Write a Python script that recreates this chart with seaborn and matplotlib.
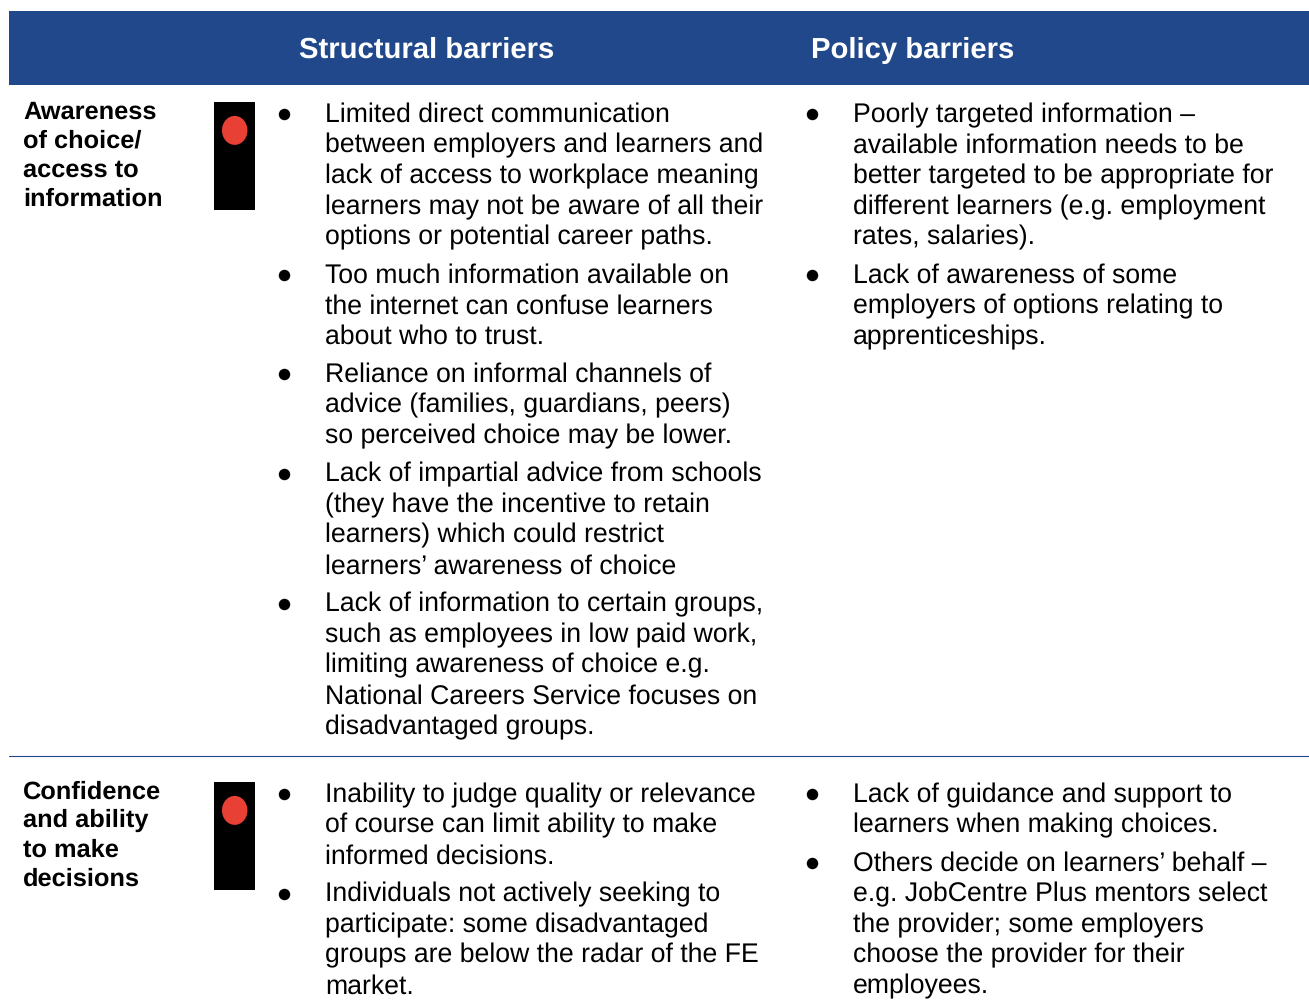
import matplotlib
matplotlib.use("Agg")
import matplotlib.pyplot as plt
from matplotlib.patches import Ellipse, Rectangle
import pandas as pd
import seaborn as sns

# table content
headers = ["Structural barriers", "Policy barriers"]
row_labels = [
    ["Awareness", "of choice/", "access to", "information"],
    ["Confidence", "and ability", "to make", "decisions"],
]
structural_1 = [
    ["Limited direct communication", "between employers and learners and", "lack of access to workplace meaning",
     "learners may not be aware of all their", "options or potential career paths."],
    ["Too much information available on", "the internet can confuse learners", "about who to trust."],
    ["Reliance on informal channels of", "advice (families, guardians, peers)", "so perceived choice may be lower."],
    ["Lack of impartial advice from schools", "(they have the incentive to retain", "learners) which could restrict",
     "learners\u2019 awareness of choice"],
    ["Lack of information to certain groups,", "such as employees in low paid work,", "limiting awareness of choice e.g.",
     "National Careers Service focuses on", "disadvantaged groups."],
]
policy_1 = [
    ["Poorly targeted information \u2013", "available information needs to be", "better targeted to be appropriate for",
     "different learners (e.g. employment", "rates, salaries)."],
    ["Lack of awareness of some", "employers of options relating to", "apprenticeships."],
]
structural_2 = [
    ["Inability to judge quality or relevance", "of course can limit ability to make", "informed decisions."],
    ["Individuals not actively seeking to", "participate: some disadvantaged", "groups are below the radar of the FE",
     "market."],
]
policy_2 = [
    ["Lack of guidance and support to", "learners when making choices."],
    ["Others decide on learners\u2019 behalf \u2013", "e.g. JobCentre Plus mentors select", "the provider; some employers",
     "choose the provider for their", "employees."],
]

BLUE = "#21488b"
RED = "#e94035"
LINE_H = 30.6
ITEM_GAP = 7.6

sns.set_theme(style="white")
plt.rcParams["font.family"] = ["Liberation Sans", "DejaVu Sans"]
plt.rcParams["text.hinting"] = "no_hinting"

fig = plt.figure(figsize=(13.09, 10.08), dpi=100)
ax = fig.add_axes([0, 0, 1, 1])
ax.set_xlim(0, 1309)
ax.set_ylim(1008, 0)
ax.axis("off")

# header band and divider
ax.add_patch(Rectangle((9, 11), 1300, 74, color=BLUE, lw=0))
ax.plot([9, 1309], [756.4, 756.4], color=BLUE, lw=0.8)
ax.text(299, 58, headers[0], color="white", fontsize=21.08, fontweight="bold")
ax.text(811, 58, headers[1], color="white", fontsize=21.08, fontweight="bold")


def draw_bullets(items, text_x, bullet_x, baseline):
    # writes the lines, returns where the bullets go
    dots = []
    y = baseline
    for item in items:
        dots.append({"x": bullet_x, "y": y - 8})
        for line in item:
            ax.text(text_x, y, line, color="black", fontsize=19.18)
            y += LINE_H
        y += ITEM_GAP
    return dots


dots = []
dots += draw_bullets(structural_1, 325, 284, 122.1)
dots += draw_bullets(policy_1, 853, 812, 122.1)
dots += draw_bullets(structural_2, 325, 284, 802.1)
dots += draw_bullets(policy_2, 853, 812, 802.1)
sns.scatterplot(data=pd.DataFrame(dots), x="x", y="y", ax=ax, color="black", s=68, linewidth=0, legend=False, zorder=3)

# row labels and the traffic lights
for label, baseline, top in zip(row_labels, [118.3, 798.3], [102.4, 782.4]):
    for i, line in enumerate(label):
        ax.text(23, baseline + i * 29, line, color="black", fontsize=18.3, fontweight="bold")
    ax.add_patch(Rectangle((214, top), 41, 108, color="black", lw=0))
    ax.add_patch(Ellipse((234.7, top + 28), 25.5, 29, color=RED, lw=0, zorder=3))

fig.savefig("out.png", dpi=100)
